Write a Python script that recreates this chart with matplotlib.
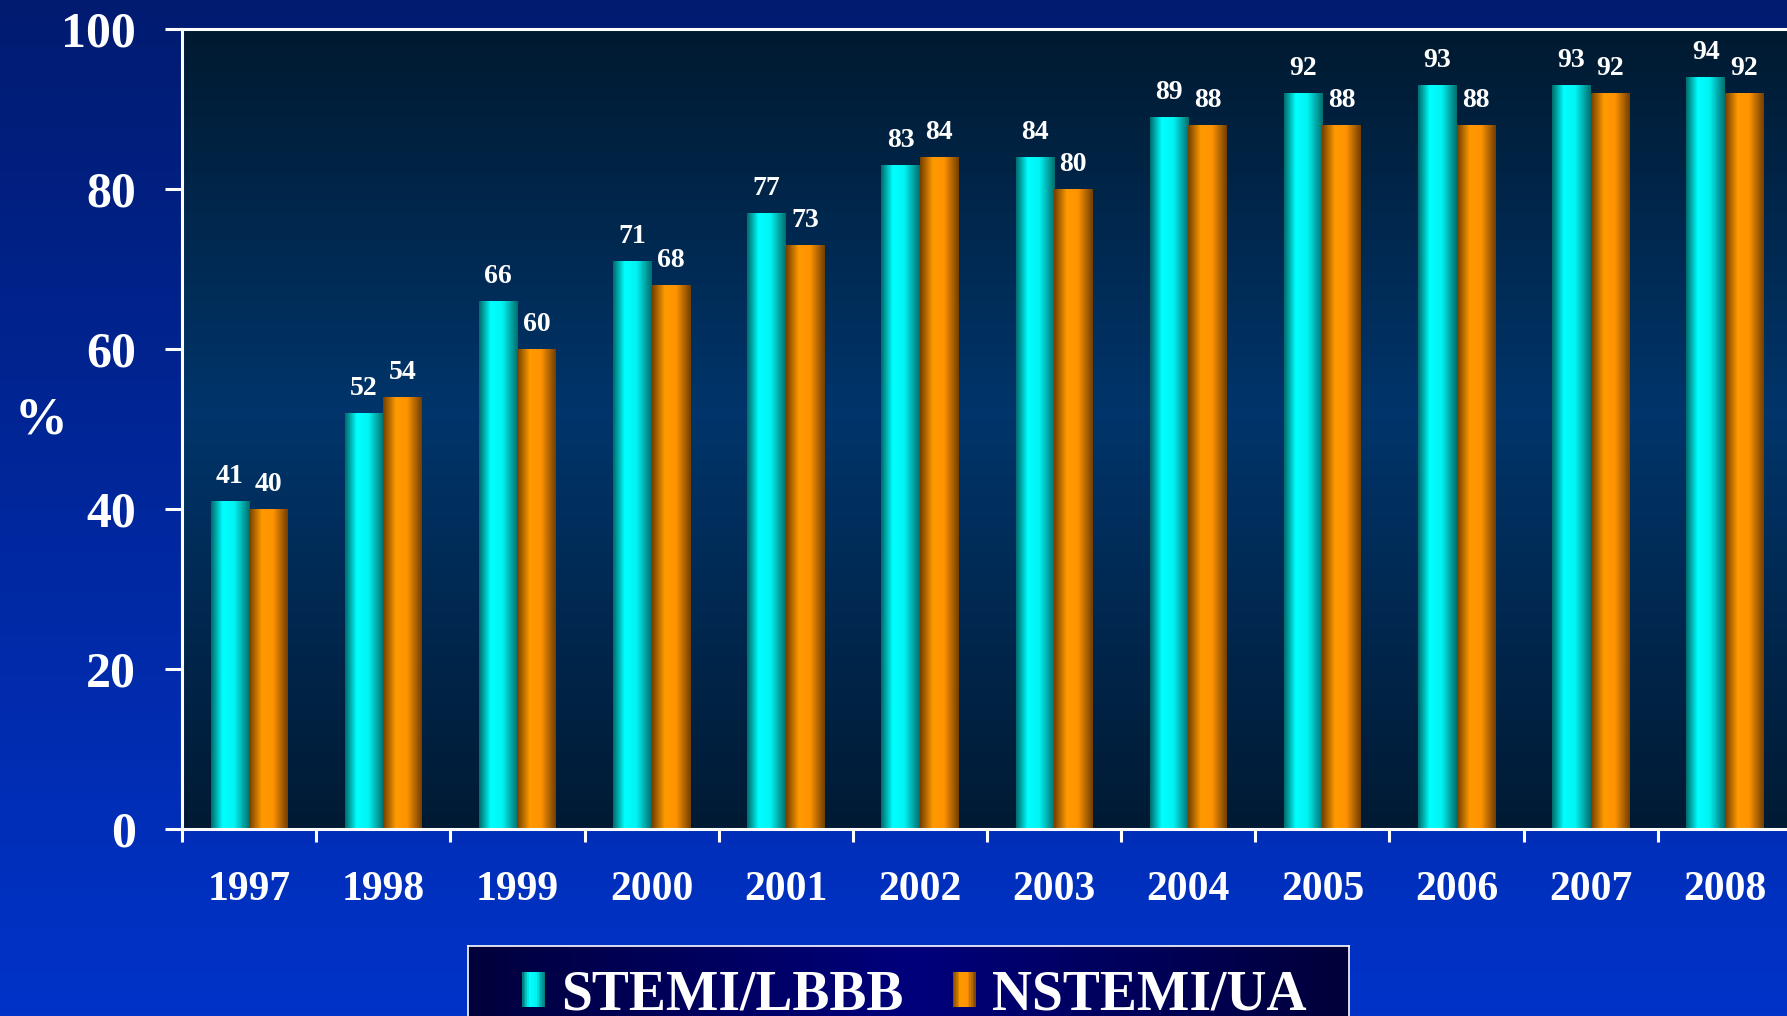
#!/usr/bin/env python3
"""
Reperfusion / treatment rate by year, STEMI/LBBB vs NSTEMI/UA.
Saves out.png (1787x1016).
"""

import matplotlib
matplotlib.use("Agg")
import matplotlib.pyplot as plt
import numpy as np
from matplotlib.colors import LinearSegmentedColormap
from matplotlib.legend_handler import HandlerBase
from matplotlib.patches import Rectangle

YEARS = ["1997", "1998", "1999", "2000", "2001", "2002",
         "2003", "2004", "2005", "2006", "2007", "2008"]
STEMI = [41, 52, 66, 71, 77, 83, 84, 89, 92, 93, 93, 94]
NSTEMI = [40, 54, 60, 68, 73, 84, 80, 88, 88, 88, 92, 92]
SERIES_NAMES = ["STEMI/LBBB", "NSTEMI/UA"]

W, H = 1787, 1016
FONT = "Liberation Serif"

# cylinder-like shading across each bar
CYAN = LinearSegmentedColormap.from_list(
    "cyan_bar", [(0, "#006c6c"), (0.3, "#00ffff"), (0.6, "#00f4f4"), (1, "#006f6f")])
ORANGE = LinearSegmentedColormap.from_list(
    "orange_bar", [(0, "#744000"), (0.33, "#ff9a00"), (0.62, "#ff9300"), (1, "#744000")])

FIG_BG = LinearSegmentedColormap.from_list("fig_bg", ["#0033c9", "#011b70"])
PLOT_BG = LinearSegmentedColormap.from_list(
    "plot_bg", [(0, "#011a33"), (0.52, "#00356b"), (1, "#011a30")])
LEGEND_BG = LinearSegmentedColormap.from_list(
    "legend_bg", [(0, "#00003c"), (0.5, "#00007c"), (1, "#00003a")])


class GradientSquare(HandlerBase):
    def __init__(self, cmap, n=14):
        super().__init__()
        self.cmap = cmap
        self.n = n

    def create_artists(self, legend, orig_handle, xdescent, ydescent,
                       width, height, fontsize, trans):
        out = []
        step = width / self.n
        for i in range(self.n):
            out.append(Rectangle((-xdescent + i * step, -ydescent), step * 1.05, height,
                                 facecolor=self.cmap((i + 0.5) / self.n),
                                 edgecolor="none", transform=trans))
        return out


def shaded_bars(ax, xs, vals, width, cmap):
    row = np.linspace(0, 1, 64).reshape(1, -1)
    bars = ax.bar(xs, vals, width, color="none", edgecolor="none", zorder=2)
    for b in bars:
        x0, h = b.get_x(), b.get_height()
        ax.imshow(row, extent=(x0, x0 + b.get_width(), 0, h), cmap=cmap,
                  aspect="auto", origin="lower", zorder=2, interpolation="bicubic")
    return bars


def main():
    fig = plt.figure(figsize=(W / 100, H / 100), dpi=100)

    # figure background gradient
    bg = fig.add_axes([0, 0, 1, 1], zorder=-10)
    bg.imshow(np.linspace(0, 1, 256).reshape(-1, 1), cmap=FIG_BG, aspect="auto",
              origin="lower", extent=(0, 1, 0, 1))
    bg.axis("off")

    left, bottom = 182 / W, (H - 829) / H
    ax = fig.add_axes([left, bottom, 1610 / W, 800 / H])
    ax.set_facecolor("none")
    ax.imshow(np.linspace(0, 1, 256).reshape(-1, 1), cmap=PLOT_BG, aspect="auto",
              origin="lower", extent=(0, 1, 0, 1), transform=ax.transAxes, zorder=0)

    x = np.arange(len(YEARS))
    bw = 0.287
    b1 = shaded_bars(ax, x - bw / 2, STEMI, bw, CYAN)
    b2 = shaded_bars(ax, x + bw / 2, NSTEMI, bw, ORANGE)

    for bars, vals in ((b1, STEMI), (b2, NSTEMI)):
        for b, v in zip(bars, vals):
            ax.annotate(f"{v}", (b.get_x() + b.get_width() / 2, b.get_height()),
                        xytext=(0, 13), textcoords="offset points",
                        ha="center", va="baseline", color="white",
                        fontsize=20, fontweight="bold", family=FONT, zorder=3)

    ax.set_xlim(-0.5, len(YEARS) - 0.5)
    ax.set_ylim(0, 100)

    ax.set_yticks(np.arange(0, 101, 20))
    ax.set_yticklabels([str(v) for v in range(0, 101, 20)])
    ax.set_xticks(np.arange(len(YEARS) + 1) - 0.5)
    ax.set_xticklabels([])
    ax.set_xticks(x, minor=True)
    ax.set_xticklabels(YEARS, minor=True)

    ax.tick_params(axis="y", direction="out", length=12, width=2.2, color="white",
                   pad=21, labelsize=36, labelcolor="white")
    ax.tick_params(axis="x", which="major", direction="out", length=9.5, width=2.2,
                   color="white")
    ax.tick_params(axis="x", which="minor", length=0, pad=30, labelsize=30,
                   labelcolor="white")
    for lab in ax.get_yticklabels() + ax.get_xticklabels(minor=True):
        lab.set_family(FONT)
        lab.set_fontweight("bold")

    for side in ("top", "left", "bottom", "right"):
        ax.spines[side].set_color("white")
        ax.spines[side].set_linewidth(2.2)

    ax.set_ylabel("%", rotation=0, color="white", fontsize=38, fontweight="bold",
                  family=FONT, ha="center", va="center")
    ax.yaxis.set_label_coords((41 - 182) / 1610, (829 - 420) / 800)

    # legend box, runs off the bottom of the slide
    lax = fig.add_axes([468 / W, -0.05, (1349 - 468) / W, (H - 946) / H + 0.05])
    lax.imshow(np.linspace(0, 1, 256).reshape(1, -1), cmap=LEGEND_BG, aspect="auto",
               extent=(0, 1, 0, 1))
    lax.set_xticks([])
    lax.set_yticks([])
    for s in lax.spines.values():
        s.set_color("white")
        s.set_linewidth(1.2)

    handles = [Rectangle((0, 0), 1, 1), Rectangle((0, 0), 1, 1)]
    fig.legend(handles, SERIES_NAMES, loc="upper left",
               bbox_to_anchor=(522 / W, (H - 969) / H), ncol=2, frameon=False,
               borderpad=0, borderaxespad=0, handlelength=0.42, handleheight=0.6,
               handletextpad=0.29, columnspacing=0.88, labelcolor="white",
               prop={"family": FONT, "weight": "bold", "size": 40},
               handler_map={handles[0]: GradientSquare(CYAN),
                            handles[1]: GradientSquare(ORANGE)})

    fig.savefig("out.png", dpi=100, facecolor=fig.get_facecolor())


if __name__ == "__main__":
    main()
